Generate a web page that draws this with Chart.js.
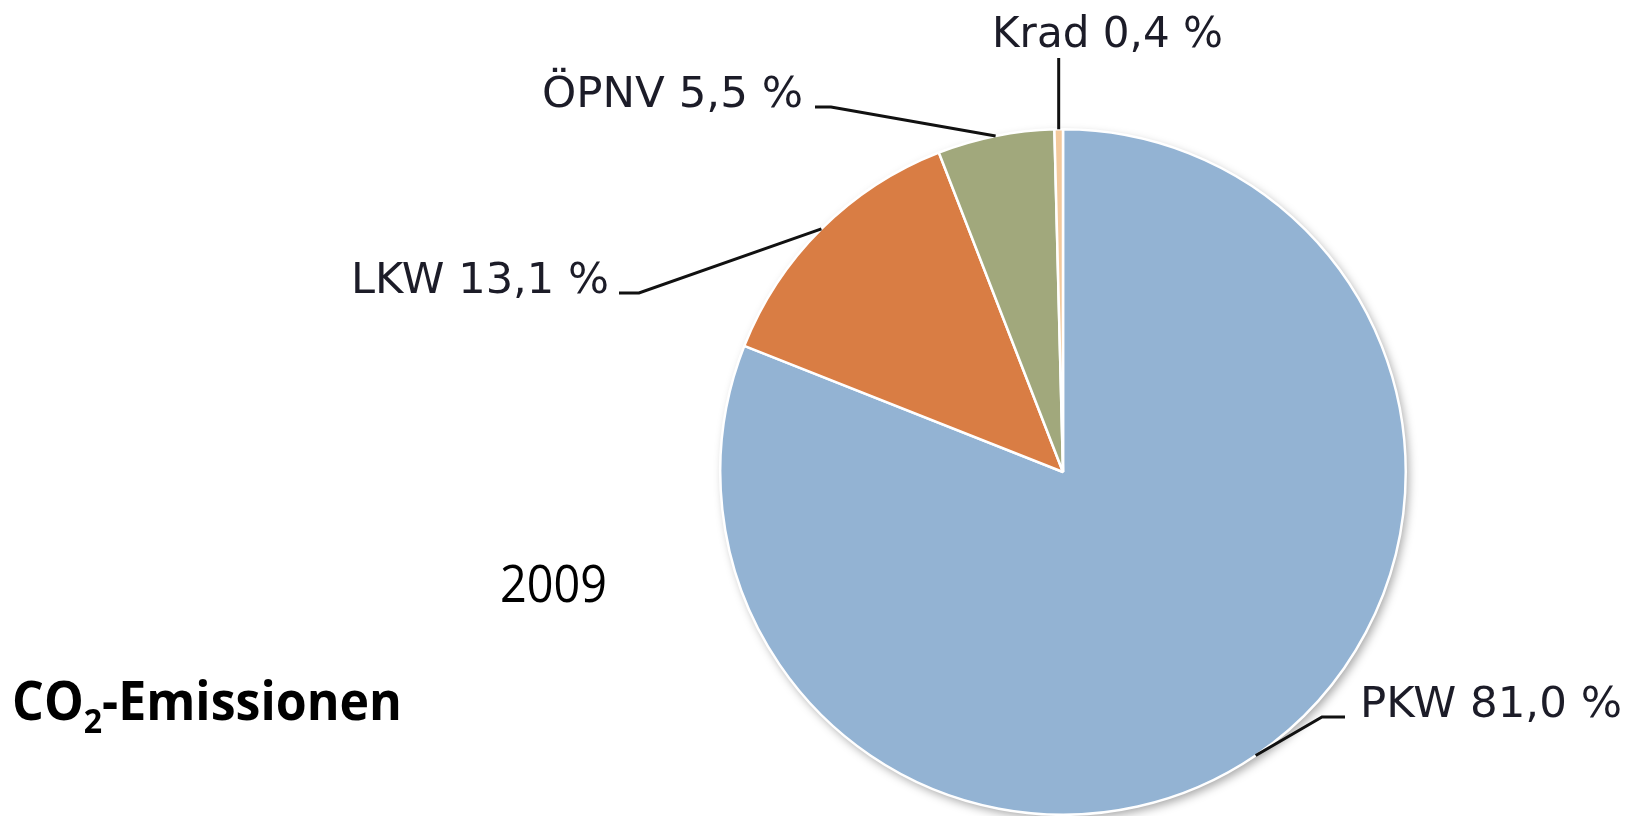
<!DOCTYPE html>
<html>
<head>
<meta charset="utf-8">
<title>CO2-Emissionen 2009</title>
<script src="https://cdn.jsdelivr.net/npm/chart.js"></script>
<style>
  html, body { margin: 0; padding: 0; background: #fff; }
  #wrap { width: 1639px; height: 816px; }
</style>
</head>
<body>
<div id="wrap"><canvas id="co2Chart" width="1639" height="816"></canvas></div>
<script>
// shares of CO2 emissions by mode, 2009 (percent)
const categories = ['PKW', 'LKW', 'ÖPNV', 'Krad'];
const shares = [81.0, 13.1, 5.5, 0.4];
const sliceColors = ['#93b3d3', '#d97d44', '#a1a87c', '#f3c99c'];

const yearText = '2009';

// where each label sits (leader elbow, text box), same order as categories
const labelLayout = [
    { elbowX: 1322, elbowY: 717, endX: 1345, textX: 1360, textY: 717, textW: 262 },
    { elbowX: 639, elbowY: 293, endX: 619, textX: 351, textY: 293, textW: 258 },
    { elbowX: 831, elbowY: 107, endX: 815, textX: 542, textY: 107, textW: 261 },
    { elbowX: null, elbowY: 58, endX: null, textX: 992, textY: 47, textW: 231 }
];

function fmtShare(v) {
    return v.toFixed(1).replace('.', ',') + ' %';
}

// draw text squeezed/stretched to a given width
function fitText(ctx, text, x, y, w) {
    const m = ctx.measureText(text).width;
    ctx.save();
    ctx.translate(x, y);
    ctx.scale(w / m, 1);
    ctx.fillText(text, 0, 0);
    ctx.restore();
}

const pieShadow = {
    id: 'pieShadow',
    beforeDatasetsDraw(chart) {
        const arc = chart.getDatasetMeta(0).data[0];
        if (!arc) return;
        const ctx = chart.ctx;
        ctx.save();
        ctx.shadowColor = 'rgba(0,0,0,0.35)';
        ctx.shadowBlur = 10;
        ctx.shadowOffsetX = 3;
        ctx.shadowOffsetY = 4;
        ctx.fillStyle = '#ffffff';
        ctx.beginPath();
        ctx.arc(arc.x, arc.y, arc.outerRadius, 0, Math.PI * 2);
        ctx.fill();
        ctx.restore();
    }
};

const sliceLabels = {
    id: 'sliceLabels',
    afterDatasetsDraw(chart) {
        const ctx = chart.ctx;
        const arcs = chart.getDatasetMeta(0).data;
        ctx.save();
        ctx.strokeStyle = '#111';
        ctx.lineWidth = 3;
        ctx.fillStyle = '#1c1c28';
        ctx.font = '43px "DejaVu Sans"';
        ctx.textBaseline = 'alphabetic';
        arcs.forEach((arc, i) => {
            const lay = labelLayout[i];
            const mid = (arc.startAngle + arc.endAngle) / 2;
            const ax = arc.x + Math.cos(mid) * arc.outerRadius;
            const ay = arc.y + Math.sin(mid) * arc.outerRadius;
            ctx.beginPath();
            ctx.moveTo(ax, ay);
            if (lay.elbowX === null) {
                ctx.lineTo(ax, lay.elbowY);
            } else {
                ctx.lineTo(lay.elbowX, lay.elbowY);
                ctx.lineTo(lay.endX, lay.elbowY);
            }
            ctx.stroke();
            fitText(ctx, categories[i] + ' ' + fmtShare(shares[i]), lay.textX, lay.textY, lay.textW);
        });

        // year and caption
        ctx.fillStyle = '#000';
        ctx.font = '52px "Open Sans"';
        fitText(ctx, yearText, 500, 602, 107);

        const partA = 'CO', partB = '-Emissionen';
        ctx.font = 'bold 53px "Open Sans"';
        const wA = ctx.measureText(partA).width;
        const wB = ctx.measureText(partB).width;
        ctx.font = 'bold 34px "Open Sans"';
        const wSub = ctx.measureText('2').width;
        const sx = 390 / (wA + wSub + wB);
        ctx.save();
        ctx.translate(12, 720);
        ctx.scale(sx, 1);
        ctx.font = 'bold 53px "Open Sans"';
        ctx.fillText(partA, 0, 0);
        ctx.font = 'bold 34px "Open Sans"';
        ctx.fillText('2', wA, 13);
        ctx.font = 'bold 53px "Open Sans"';
        ctx.fillText(partB, wA + wSub, 0);
        ctx.restore();
        ctx.restore();
    }
};

const ctx = document.getElementById('co2Chart').getContext('2d');
new Chart(ctx, {
    type: 'pie',
    data: {
        labels: categories,
        datasets: [{
            data: shares,
            backgroundColor: sliceColors,
            borderColor: '#ffffff',
            borderWidth: 2.5
        }]
    },
    options: {
        responsive: false,
        animation: false,
        events: [],
        layout: { padding: { left: 719, right: 232, top: 128, bottom: 0 } },
        plugins: {
            legend: { display: false },
            tooltip: { enabled: false },
            title: { display: false }
        }
    },
    plugins: [pieShadow, sliceLabels]
});
</script>
</body>
</html>
